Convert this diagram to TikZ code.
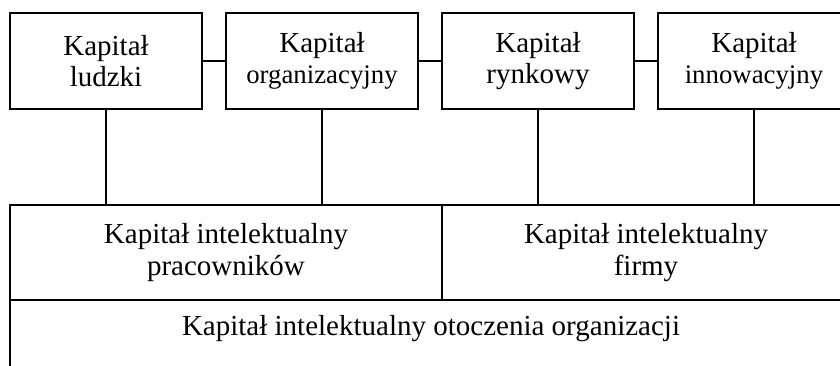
\documentclass[tikz,border=0pt]{standalone}
\usepackage{fontspec}
\setmainfont{Liberation Serif}
\begin{document}
\begin{tikzpicture}[x=0.5pt,y=-0.5pt,
  box/.style={draw,line width=1pt,inner sep=0pt,align=center,
    font=\fontsize{14.5}{15.2}\selectfont},
  topbox/.style={box,minimum width=96pt,minimum height=48pt},
  link/.style={line width=1pt},
  smallline/.style={}]
\useasboundingbox (0,0) rectangle (840,365);
\clip (0,0) rectangle (840,365);
\newcommand{\sm}[1]{{\fontsize{13.4}{15.2}\selectfont #1}}
\node[topbox] (b1) at (106,61) {Kapitał\\ludzki};
\node[topbox] (b2) at (322,61) {Kapitał\\\sm{organizacyjny}};
\node[topbox] (b3) at (538,61) {Kapitał\\rynkowy};
\node[topbox] (b4) at (754,61) {Kapitał\\\sm{innowacyjny}};
\node[box,minimum width=216pt,minimum height=47.5pt] (m1) at (226,252.5) {Kapitał intelektualny\\[1pt]pracowników};
\node[box,minimum width=204pt,minimum height=47.5pt] (m2) at (646,252.5) {Kapitał intelektualny\\[1pt]firmy};
\node[box,minimum width=420pt,minimum height=45pt] (o) at (430,345) {};
\node[font=\fontsize{14.5}{15.2}\selectfont,inner sep=0pt] (ot) at (431,329) {Kapitał intelektualny otoczenia organizacji};
\draw[link] (b1.east) -- (b2.west);
\draw[link] (b2.east) -- (b3.west);
\draw[link] (b3.east) -- (b4.west);
\draw[link] (b1.south) -- (b1.south |- m1.north);
\draw[link] (b2.south) -- (b2.south |- m1.north);
\draw[link] (b3.south) -- (b3.south |- m2.north);
\draw[link] (b4.south) -- (b4.south |- m2.north);
\end{tikzpicture}
\end{document}
